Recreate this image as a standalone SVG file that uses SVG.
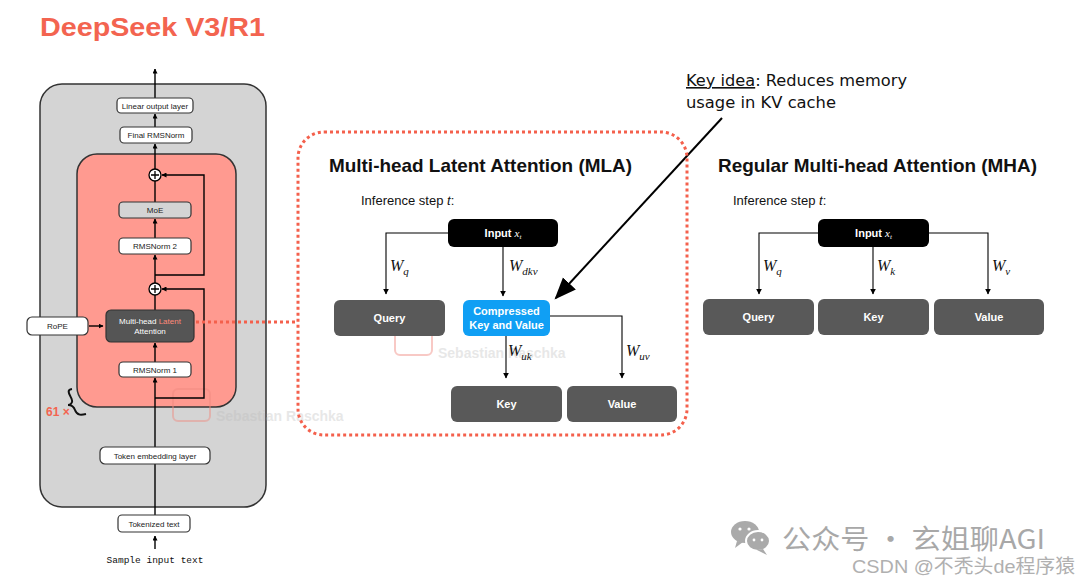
<svg xmlns="http://www.w3.org/2000/svg" width="1080" height="581" viewBox="0 0 1080 581">
<defs>
<marker id="ah" viewBox="0 0 10 10" refX="9" refY="5" markerWidth="5" markerHeight="5" orient="auto-start-reverse" markerUnits="userSpaceOnUse"><path d="M0,0 L10,5 L0,10 z" fill="#000"/></marker>
<marker id="ah2" viewBox="0 0 10 10" refX="9" refY="5" markerWidth="6" markerHeight="6" orient="auto" markerUnits="userSpaceOnUse"><path d="M0,0 L10,5 L0,10 z" fill="#000"/></marker>
<marker id="big" viewBox="0 0 10 10" refX="9" refY="5" markerWidth="22" markerHeight="22" orient="auto" markerUnits="userSpaceOnUse"><path d="M0,1 L10,5 L0,9 z" fill="#000"/></marker>
<style>
.sm{font-family:"Liberation Sans",Arial,sans-serif;font-size:8px;fill:#222;text-anchor:middle}
.wbox{fill:#fff;stroke:#333;stroke-width:1.2}
.ln{stroke:#000;stroke-width:1.4;fill:none}
.ln2{stroke:#000;stroke-width:1.1;fill:none}
.dbox{fill:#595959}
.bt{font-family:"Liberation Sans",Arial,sans-serif;font-size:11px;font-weight:bold;fill:#fff;text-anchor:middle}
.h{font-family:"Liberation Sans",Arial,sans-serif;font-size:19px;font-weight:bold;fill:#111}
.inf{font-family:"Liberation Sans",Arial,sans-serif;font-size:13px;fill:#111}
.w{font-family:"Liberation Serif","Times New Roman",serif;font-style:italic;font-size:16px;fill:#111}
.ws{font-size:11px}
.wm{font-family:"Liberation Sans",Arial,sans-serif;font-size:14px;font-weight:bold;fill:#bbb;opacity:0.75}
.hand{font-family:"DejaVu Sans",sans-serif;font-size:16px;fill:#111}
</style>
</defs>
<rect width="1080" height="581" fill="#fff"/>
<text x="40" y="36" font-family="Liberation Sans,Arial,sans-serif" font-size="26" font-weight="bold" fill="#F36450" textLength="225" lengthAdjust="spacingAndGlyphs">DeepSeek V3/R1</text>

<g id="outer"><rect x="40" y="84" width="226" height="423" rx="22" fill="#d4d4d4" stroke="#333" stroke-width="1.5"/></g>
<g id="block"><rect x="77" y="154" width="159" height="253" rx="20" fill="#FF9A90" stroke="#333" stroke-width="1.5"/></g>

<g id="watermark1" opacity="0.45">
<rect x="173" y="389" width="37" height="32" rx="5" fill="none" stroke="#f08a80" stroke-width="2"/>
<text x="216" y="421" class="wm">Sebastian Raschka</text>
</g>

<g id="connectors">
<line class="ln" x1="155" y1="98" x2="155" y2="69" marker-end="url(#ah)"/>
<line class="ln" x1="155" y1="127" x2="155" y2="114" marker-end="url(#ah)"/>
<line class="ln" x1="155" y1="169" x2="155" y2="144" marker-end="url(#ah)"/>
<line class="ln" x1="155" y1="202" x2="155" y2="181"/>
<line class="ln" x1="155" y1="238" x2="155" y2="219" marker-end="url(#ah)"/>
<line class="ln" x1="155" y1="283" x2="155" y2="255" marker-end="url(#ah)"/>
<line class="ln" x1="155" y1="310" x2="155" y2="295"/>
<line class="ln" x1="155" y1="362" x2="155" y2="343" marker-end="url(#ah)"/>
<line class="ln" x1="155" y1="515" x2="155" y2="378" marker-end="url(#ah)"/>
<line class="ln" x1="155" y1="549" x2="155" y2="536" marker-end="url(#ah)"/>
<polyline class="ln" points="155,275 204,275 204,175 162,175" marker-end="url(#ah)"/>
<polyline class="ln" points="155,398 204,398 204,289 162,289" marker-end="url(#ah)"/>
<line class="ln" x1="89" y1="326" x2="103" y2="326" marker-end="url(#ah)"/>
<line x1="196" y1="322" x2="298" y2="322" stroke="#F4604C" stroke-width="3" stroke-dasharray="3,3"/>
<!-- MLA -->
<polyline class="ln2" points="448,233 386,233 386,294" marker-end="url(#ah2)"/>
<line class="ln2" x1="503" y1="247" x2="503" y2="296" marker-end="url(#ah2)"/>
<polyline class="ln2" points="550,316 622,316 622,378" marker-end="url(#ah2)"/>
<line class="ln2" x1="506" y1="336" x2="506" y2="378" marker-end="url(#ah2)"/>
<!-- MHA -->
<polyline class="ln2" points="818,233 759,233 759,294" marker-end="url(#ah2)"/>
<line class="ln2" x1="873" y1="247" x2="873" y2="294" marker-end="url(#ah2)"/>
<polyline class="ln2" points="929,233 988,233 988,294" marker-end="url(#ah2)"/>
<line x1="722" y1="118" x2="556" y2="298" stroke="#000" stroke-width="2" marker-end="url(#big)"/>
</g>

<g id="linear"><rect class="wbox" x="117" y="98" width="76" height="15" rx="4"/><text class="sm" x="155" y="108.5">Linear output layer</text></g>
<g id="finalnorm"><rect class="wbox" x="120" y="127" width="72" height="16" rx="4"/><text class="sm" x="156" y="138">Final RMSNorm</text></g>
<g id="plus1"><circle cx="155" cy="175" r="6" fill="#fff" stroke="#000" stroke-width="1.3"/><path d="M151,175 H159 M155,171 V179" stroke="#000" stroke-width="1.3"/></g>
<g id="moe"><rect x="119" y="202" width="72" height="16" rx="4" fill="#d4d4d4" stroke="#333" stroke-width="1.2"/><text class="sm" x="155" y="213">MoE</text></g>
<g id="rmsnorm2"><rect class="wbox" x="119" y="238" width="72" height="16" rx="4"/><text class="sm" x="155" y="249">RMSNorm 2</text></g>
<g id="plus2"><circle cx="155" cy="289" r="6" fill="#fff" stroke="#000" stroke-width="1.3"/><path d="M151,289 H159 M155,285 V293" stroke="#000" stroke-width="1.3"/></g>
<g id="mla"><rect x="106" y="310" width="88" height="32" rx="5" fill="#555" stroke="#333" stroke-width="1.2"/>
<text class="sm" x="150" y="324" style="fill:#fff">Multi-head <tspan style="fill:#FF8A7A">Latent</tspan></text>
<text class="sm" x="150" y="334" style="fill:#fff">Attention</text></g>
<g id="rope"><rect class="wbox" x="27" y="317" width="61" height="18" rx="5"/><text class="sm" x="57.5" y="329">RoPE</text></g>
<g id="rmsnorm1"><rect class="wbox" x="119" y="362" width="72" height="15" rx="4"/><text class="sm" x="155" y="372.5">RMSNorm 1</text></g>
<g id="repeat">
<path d="M72,389 C65,390 71,396 72,400 C73,403 70,405 68,405 C72,405 74,407 75,410 C77,416 82,415 86,414" fill="none" stroke="#111" stroke-width="2"/>
<text x="46" y="416" font-family="Liberation Sans,Arial,sans-serif" font-size="12" font-weight="bold" fill="#F36450">61 ×</text></g>
<g id="embedding"><rect class="wbox" x="100" y="447" width="110" height="17" rx="5"/><text class="sm" x="155" y="458.5">Token embedding layer</text></g>
<g id="tokenized"><rect class="wbox" x="118" y="515" width="72" height="17" rx="4"/><text class="sm" x="154" y="526.5">Tokenized text</text></g>
<text x="155" y="563" font-family="Liberation Mono,Courier New,monospace" font-size="9.5" fill="#111" text-anchor="middle">Sample input text</text>

<g id="mla-panel">
<rect x="298" y="132" width="389" height="303" rx="26" fill="none" stroke="#F4604C" stroke-width="3" stroke-dasharray="3,3"/>
<text class="h" x="329" y="172" textLength="303" lengthAdjust="spacingAndGlyphs">Multi-head Latent Attention (MLA)</text>
<text class="inf" x="361" y="205">Inference step <tspan font-style="italic">t</tspan>:</text>
</g>
<g id="watermark2" opacity="0.45">
<rect x="395" y="323" width="37" height="32" rx="5" fill="none" stroke="#f08a80" stroke-width="2"/>
<text x="438" y="358" class="wm">Sebastian Raschka</text>
</g>
<g id="mla-input"><rect x="448" y="219" width="110" height="28" rx="6" fill="#000"/><text class="bt" x="503" y="237">Input <tspan font-family="Liberation Serif,serif" font-style="italic" font-weight="normal">x</tspan><tspan font-family="Liberation Serif,serif" font-style="italic" font-weight="normal" font-size="7" dy="2">t</tspan></text></g>
<g id="mla-query"><rect class="dbox" x="334" y="300" width="111" height="36" rx="6"/><text class="bt" x="389.5" y="322">Query</text></g>
<g id="mla-compressed"><rect x="463" y="300" width="87" height="36" rx="6" fill="#109FF4"/><text class="bt" x="506.5" y="315">Compressed</text><text class="bt" x="506.5" y="329">Key and Value</text></g>
<g id="mla-key"><rect class="dbox" x="451" y="386" width="111" height="36" rx="6"/><text class="bt" x="506.5" y="408">Key</text></g>
<g id="mla-value"><rect class="dbox" x="567" y="386" width="110" height="36" rx="6"/><text class="bt" x="622" y="408">Value</text></g>
<text class="w" x="390" y="271">W<tspan class="ws" dy="4">q</tspan></text>
<text class="w" x="509" y="271">W<tspan class="ws" dy="4">dkv</tspan></text>
<text class="w" x="508" y="356">W<tspan class="ws" dy="4">uk</tspan></text>
<text class="w" x="626" y="356">W<tspan class="ws" dy="4">uv</tspan></text>

<g id="keyidea">
<text class="hand" x="686" y="86" textLength="221" lengthAdjust="spacingAndGlyphs"><tspan text-decoration="underline">Key idea</tspan>: Reduces memory</text>
<text class="hand" x="686" y="108" textLength="150" lengthAdjust="spacingAndGlyphs">usage in KV cache</text>
</g>

<g id="mha-panel">
<text class="h" x="718" y="172" textLength="319" lengthAdjust="spacingAndGlyphs">Regular Multi-head Attention (MHA)</text>
<text class="inf" x="733" y="205">Inference step <tspan font-style="italic">t</tspan>:</text>
</g>
<g id="mha-input"><rect x="818" y="219" width="111" height="28" rx="6" fill="#000"/><text class="bt" x="873.5" y="237">Input <tspan font-family="Liberation Serif,serif" font-style="italic" font-weight="normal">x</tspan><tspan font-family="Liberation Serif,serif" font-style="italic" font-weight="normal" font-size="7" dy="2">t</tspan></text></g>
<g id="mha-query"><rect class="dbox" x="703" y="299" width="111" height="36" rx="6"/><text class="bt" x="758.5" y="321">Query</text></g>
<g id="mha-key"><rect class="dbox" x="818" y="299" width="111" height="36" rx="6"/><text class="bt" x="873.5" y="321">Key</text></g>
<g id="mha-value"><rect class="dbox" x="934" y="299" width="110" height="36" rx="6"/><text class="bt" x="989" y="321">Value</text></g>
<text class="w" x="763" y="271">W<tspan class="ws" dy="4">q</tspan></text>
<text class="w" x="877" y="271">W<tspan class="ws" dy="4">k</tspan></text>
<text class="w" x="992" y="271">W<tspan class="ws" dy="4">v</tspan></text>

<g id="footer" fill="#aaa">
<ellipse cx="745" cy="532" rx="14" ry="11" fill="#aaa"/>
<path d="M737,541 L735,548 L743,542 z" fill="#aaa"/>
<ellipse cx="758" cy="541" rx="12" ry="10" fill="#aaa" stroke="#fff" stroke-width="2"/>
<path d="M763,549 L767,555 L757,550 z" fill="#aaa"/>
<circle cx="740" cy="529" r="1.6" fill="#fff"/><circle cx="749" cy="529" r="1.6" fill="#fff"/>
<circle cx="754" cy="540" r="1.4" fill="#fff"/><circle cx="762" cy="540" r="1.4" fill="#fff"/>
<text x="782" y="549" font-family="Noto Sans CJK SC,Liberation Sans,sans-serif" font-size="27" fill="#a8a8a8" textLength="263" lengthAdjust="spacingAndGlyphs">公众号 · 玄姐聊AGI</text>
<text x="852" y="573" font-family="Liberation Sans,Noto Sans CJK SC,sans-serif" font-size="19" fill="#b0b0b0" textLength="223" lengthAdjust="spacingAndGlyphs">CSDN @不秃头de程序猿</text>
</g>
</svg>
